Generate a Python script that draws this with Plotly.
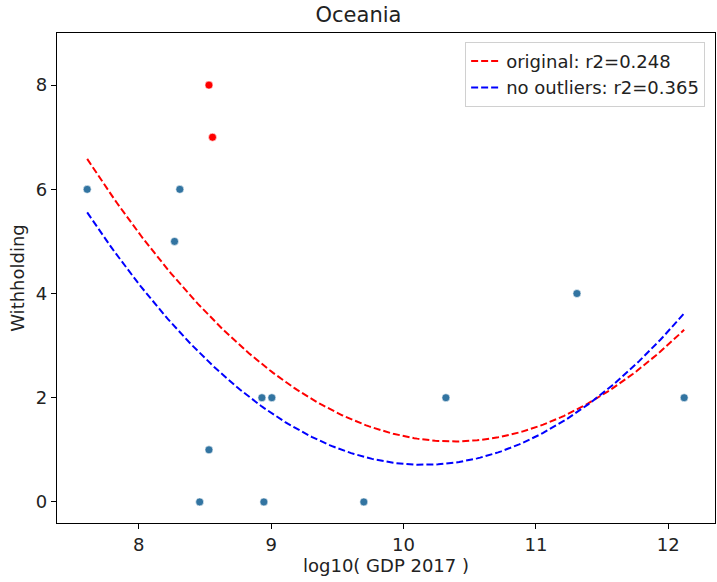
import numpy as np
import plotly.graph_objects as go

# data
x_main = [7.61, 8.27, 8.31, 8.46, 8.53, 8.93, 9.005, 8.945, 9.70, 10.32, 11.31, 12.12]
y_main = [6, 5, 6, 0, 1, 2, 2, 0, 0, 2, 4, 2]
x_out = [8.53, 8.557]
y_out = [8, 7]
label_orig = "original: r2=0.248"
label_clean = "no outliers: r2=0.365"
title = "Oceania"
x_title = "log10( GDP 2017 )"
y_title = "Withholding"

x_all = np.array(x_main + x_out)
y_all = np.array(y_main + y_out)
c_orig = np.polyfit(x_all, y_all, 2)
c_clean = np.polyfit(np.array(x_main), np.array(y_main), 2)

xs = np.linspace(min(x_all), max(x_all), 200)

FONT = "DejaVu Sans"
TXT = "#222"

fig = go.Figure()
fig.add_trace(go.Scatter(x=x_main, y=y_main, mode="markers", showlegend=False,
                         marker=dict(color="#3274a1", size=8, line=dict(color="white", width=0.6))))
fig.add_trace(go.Scatter(x=x_out, y=y_out, mode="markers", showlegend=False,
                         marker=dict(color="red", size=8, line=dict(color="white", width=0.6))))
fig.add_trace(go.Scatter(x=xs, y=np.polyval(c_orig, xs), mode="lines", name=label_orig,
                         line=dict(color="red", width=2, dash="7px,3px")))
fig.add_trace(go.Scatter(x=xs, y=np.polyval(c_clean, xs), mode="lines", name=label_clean,
                         line=dict(color="blue", width=2, dash="7px,3px")))

axis_common = dict(showgrid=False, zeroline=False, showline=True, linecolor="black", linewidth=1.3,
                   mirror=True, ticks="outside", ticklen=5, tickcolor="black",
                   tickfont=dict(family=FONT, size=18, color=TXT))
fig.update_xaxes(range=[7.382, 12.353], tickvals=[8, 9, 10, 11, 12],
                 title=dict(text=x_title, font=dict(family=FONT, size=18, color=TXT), standoff=4),
                 **axis_common)
fig.update_yaxes(range=[-0.404, 9.0], tickvals=[0, 2, 4, 6, 8],
                 title=dict(text=y_title, font=dict(family=FONT, size=18, color=TXT), standoff=6),
                 **axis_common)
fig.update_layout(
    width=717, height=582,
    margin=dict(l=57, r=2, t=33, b=59),
    plot_bgcolor="white", paper_bgcolor="white",
    title=dict(text=title, x=0.5, xanchor="center", y=0.975, yanchor="middle",
               font=dict(family=FONT, size=21, color=TXT)),
    legend=dict(x=0.985, y=0.982, xanchor="right", yanchor="top",
                bgcolor="rgba(255,255,255,0.8)", bordercolor="#d0d0d0", borderwidth=1,
                font=dict(family=FONT, size=18, color=TXT)),
)
fig.write_html("out.html")
